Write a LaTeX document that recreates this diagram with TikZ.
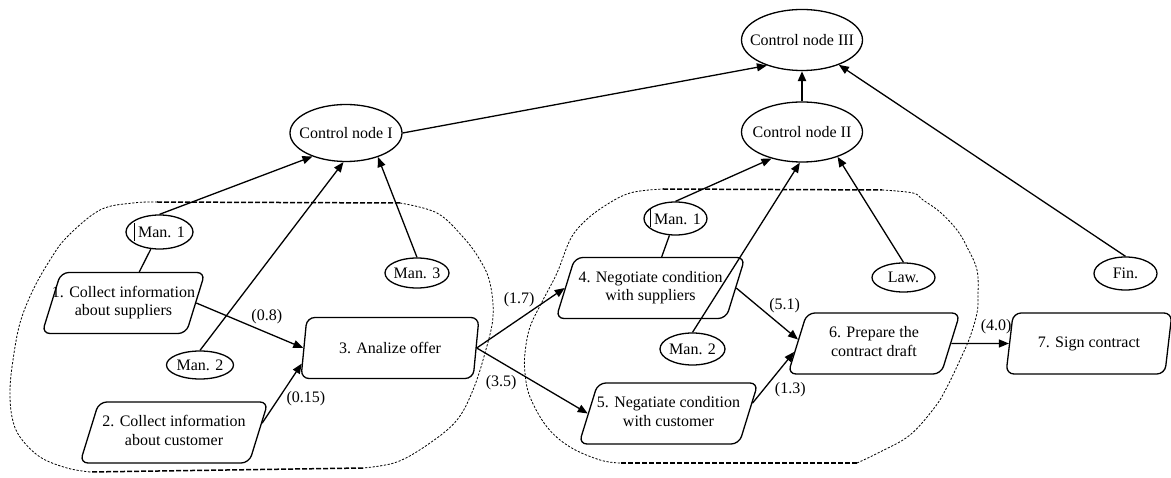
\documentclass[tikz,border=0pt]{standalone}
\usepackage{fontspec}
\setmainfont{Liberation Serif}
\usetikzlibrary{shapes.geometric,arrows.meta,calc}
\newcommand{\mkz}[1]{\makebox[0pt]{#1}}
\newcommand{\two}[2]{\makebox[0pt]{\begin{tabular}{@{}c@{}}#1\\#2\end{tabular}}}
\newcommand{\cur}{\rule[-3pt]{0.9pt}{18pt}\hspace{3pt}}
\begin{document}
\begin{tikzpicture}[x=1pt,y=-1pt,
  every node/.style={font=\fontsize{16}{18.5}\selectfont},
  proc/.style={draw, line width=1.3pt, shape=trapezium, trapezium left angle=63,
    trapezium right angle=117, trapezium stretches body, minimum height=61pt,
    inner sep=0pt, rounded corners=8pt},
  ctrl/.style={draw, ellipse, line width=1.3pt, inner sep=0pt},
  conn/.style={line width=1.3pt, -{Triangle[length=10pt,width=8pt]}},
  plain/.style={line width=1.3pt},
  lbl/.style={inner sep=0pt},
  cloudstraight/.style={line width=1.5pt, dash pattern=on 5pt off 2pt},
  cloudcurve/.style={line width=0.8pt, dash pattern=on 2.2pt off 1.6pt}]
\useasboundingbox (0,0) rectangle (1171,478);

% dotted regions
\draw[cloudstraight] (157,202) -- (400,203);
\draw[cloudcurve] plot[smooth, tension=0.6] coordinates {(400,203) (437,213) (463,237) (480,260) (490,283) (493,317) (485,353) (473,390) (457,420) (430,443) (397,462) (363,468)};
\draw[cloudstraight] (363,468) -- (90,472);
\draw[cloudcurve] plot[smooth, tension=0.6] coordinates {(90,472) (67,468) (40,457) (20,437) (12,417) (10,390) (13,360) (20,323) (33,290) (50,260) (67,237) (100,210) (133,203) (157,202)};

\draw[cloudstraight] (663,189) -- (882,190);
\draw[cloudcurve] plot[smooth, tension=0.6] coordinates {(882,190) (913,193) (923,200) (940,212) (957,230) (967,247) (977,270) (978,297) (977,313) (970,337) (960,360) (947,387) (935,407) (910,435) (880,452) (857,463)};
\draw[cloudstraight] (857,463) -- (620,463);
\draw[cloudcurve] plot[smooth, tension=0.6] coordinates {(620,463) (600,460) (570,447) (547,427) (530,397) (525,373) (525,353) (530,327) (543,300) (557,273) (570,240) (583,223) (603,207) (630,193) (663,189)};

% control nodes
\node[ctrl, minimum width=121pt, minimum height=61pt] (c3) at (802,40) {\mkz{Control node III}};
\node[ctrl, minimum width=121pt, minimum height=60pt] (c2) at (802,132) {\mkz{Control node II}};
\node[ctrl, minimum width=112pt, minimum height=57pt] (c1) at (346,133) {\mkz{Control node I}};

% managers
\node[ctrl, minimum width=67pt, minimum height=34pt] (m1a) at (159.5,232) {\mkz{\cur Man. 1}};
\node[ctrl, minimum width=67pt, minimum height=28pt] (m2a) at (200,365) {\mkz{Man. 2}};
\node[ctrl, minimum width=64pt, minimum height=30pt] (m3) at (417,273) {\mkz{Man. 3}};
\node[ctrl, minimum width=63pt, minimum height=33pt] (m1b) at (675.5,218.5) {\mkz{\cur Man. 1}};
\node[ctrl, minimum width=65pt, minimum height=32pt] (m2b) at (692.5,349) {\mkz{Man. 2}};
\node[ctrl, minimum width=63pt, minimum height=29pt] (law) at (903.5,277.5) {\mkz{Law.}};
\node[ctrl, minimum width=63pt, minimum height=33pt] (fin) at (1125.5,273.5) {\mkz{Fin.}};

% processes
\node[proc, minimum width=163pt] (p1) at (123.5,303) {\two{1. Collect information}{about suppliers}};
\node[proc, minimum width=188pt] (p2) at (174,432.5) {\two{2. Collect information}{about customer}};
\node[proc, minimum width=178pt] (p3) at (390,348) {\mkz{3. Analize offer}};
\node[proc, minimum width=189pt] (p4) at (650.5,288) {\two{4. Negotiate condition}{with suppliers}};
\node[proc, minimum width=179pt] (p5) at (668.5,413.5) {\two{5. Negatiate condition}{with customer}};
\node[proc, minimum width=172pt] (p6) at (874,343.5) {\two{6. Prepare the}{contract draft}};
\node[proc, minimum width=166pt] (p7) at (1089,343.5) {\mkz{7. Sign contract}};

% connectors
\draw[conn] (c1.east) -- (c3.216);
\draw[conn, line width=2.2pt] (c2.north) -- (c3.south);
\draw[conn] (fin.north) -- (c3.-34);
\draw[conn] (m1a.north) -- (c1.215);
\draw[plain] (m1a) -- (p1);
\draw[conn] (m2a.north) -- (c1.265);
\draw[conn] (m3.north) -- (c1.-37);
\draw[conn] (m1b.north) -- (c2.221);
\draw[plain] (m1b) -- (p4);
\draw[conn] (m2b.north) -- (c2.266);
\draw[conn] (law.north) -- (c2.-35);

\draw[conn] (p1.0) -- node[lbl, xshift=17pt, yshift=8.5pt]{(0.8)} (p3.180);
\draw[conn] (p2.6) -- node[lbl, xshift=24pt, yshift=-5pt]{(0.15)} (p3.190);
\draw[conn] (p3.0) -- node[lbl, xshift=-1.5pt, yshift=18pt]{(1.7)} (p4.180);
\draw[conn] (p3.0) -- node[lbl, pos=0.22, yshift=-20pt]{(3.5)} (p5.180);
\draw[conn] (p4.0) -- node[lbl, xshift=17.5pt, yshift=8pt]{(5.1)} (p6.177);
\draw[conn] (p5.7) -- node[lbl, xshift=17pt, yshift=-12.5pt]{(1.3)} (p6.186);
\draw[conn] (p6.0) -- node[lbl, xshift=16pt, yshift=17pt]{(4.0)} (p7.180);
\end{tikzpicture}
\end{document}
